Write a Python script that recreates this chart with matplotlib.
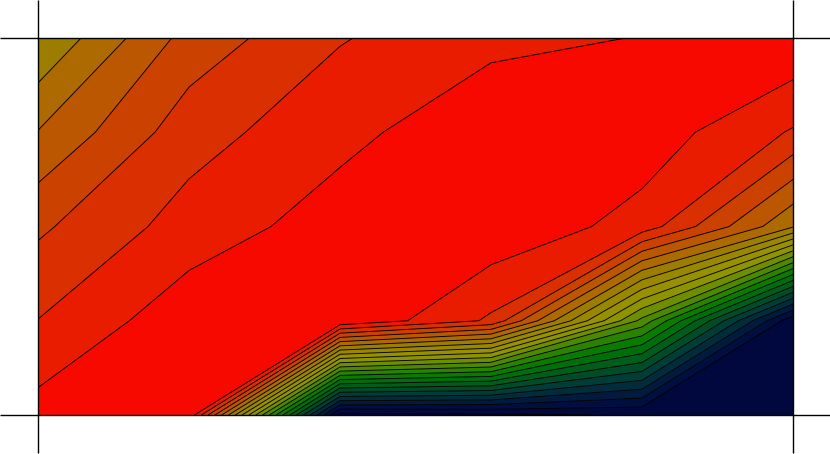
import numpy as np
import matplotlib
matplotlib.use('Agg')
import matplotlib.pyplot as plt
from matplotlib.colors import LinearSegmentedColormap

# grid node coordinates
x = [0, 1, 2, 3, 4, 5]
y = [0, 1, 2, 3, 4]

# values at the grid nodes, one list per row (bottom row first)
row0 = [23.40, 23.80, 1.60, 1.80, 2.10, 2.00]
row1 = [22.02, 23.64, 23.95, 21.83, 12.70, 2.20]
row2 = [20.82, 22.44, 23.47, 23.80, 22.60, 18.10]
row3 = [19.04, 21.57, 22.72, 23.70, 23.60, 21.90]
row4 = [17.05, 20.38, 21.93, 22.75, 23.03, 23.87]

levels = list(range(1, 25))

z = np.array([row0, row1, row2, row3, row4])

# navy -> teal -> green -> olive -> red
cmap = LinearSegmentedColormap.from_list('navy_red', [
    (0.00, '#00003c'),
    (0.12, '#001040'),
    (0.24, '#003c38'),
    (0.40, '#007a00'),
    (0.60, '#969600'),
    (0.71, '#9a8000'),
    (1.00, '#ff0000'),
])

fig = plt.figure(figsize=(8.3, 4.54), dpi=100)
ax = fig.add_axes([38 / 830, 39 / 454, 755 / 830, 377 / 454])

ax.contourf(x, y, z, levels=levels, cmap=cmap)
ax.contour(x, y, z, levels=levels, colors='k', linewidths=0.65)

ax.set_xlim(0, 5)
ax.set_ylim(0, 4)

# long ticks only at the ends of each axis, no labels
ax.set_xticks([0, 5])
ax.set_yticks([0, 4])
ax.tick_params(direction='out', length=27.5, width=1.0, top=True, right=True,
               labelbottom=False, labelleft=False)
for s in ax.spines.values():
    s.set_linewidth(1.0)

fig.savefig('out.png', dpi=100)
